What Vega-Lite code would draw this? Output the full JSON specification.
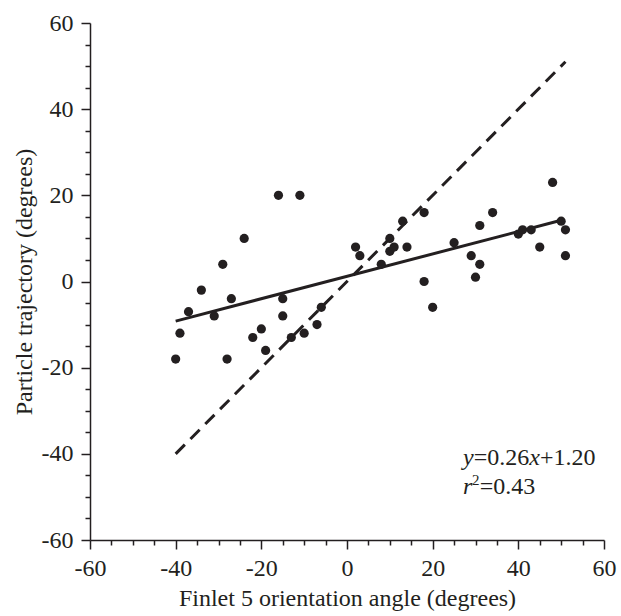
{
  "$schema": "https://vega.github.io/schema/vega-lite/v6.json",
  "width": 514,
  "height": 517,
  "autosize": {"type": "none"},
  "padding": {"left": 90, "top": 23, "right": 17, "bottom": 76},
  "background": "white",
  "config": {
    "view": {"stroke": null},
    "axis": {
      "grid": false,
      "domainColor": "#231f20",
      "domainWidth": 1.5,
      "tickColor": "#231f20",
      "tickWidth": 1.5,
      "labelFont": "Liberation Serif",
      "labelFontSize": 24,
      "labelColor": "#231f20",
      "titleFont": "Liberation Serif",
      "titleFontSize": 24,
      "titleFontWeight": "normal",
      "titleColor": "#231f20",
      "labelFlush": false,
      "labelOverlap": false
    }
  },
  "datasets": {
    "points": [
      {"x": -16, "y": 20}, {"x": -11, "y": 20}, {"x": -24, "y": 10}, {"x": -29, "y": 4},
      {"x": -34, "y": -2}, {"x": -37, "y": -7}, {"x": -27, "y": -4}, {"x": -31, "y": -8},
      {"x": -15, "y": -4}, {"x": -15, "y": -8}, {"x": -39, "y": -12}, {"x": -40, "y": -18},
      {"x": -28, "y": -18}, {"x": -20, "y": -11}, {"x": -22, "y": -13}, {"x": -19, "y": -16},
      {"x": -13, "y": -13}, {"x": -10, "y": -12}, {"x": -7, "y": -10}, {"x": -6, "y": -6},
      {"x": 2, "y": 8}, {"x": 3, "y": 6}, {"x": 8, "y": 4}, {"x": 10, "y": 10},
      {"x": 10, "y": 7}, {"x": 11, "y": 8}, {"x": 13, "y": 14}, {"x": 14, "y": 8},
      {"x": 18, "y": 16}, {"x": 18, "y": 0}, {"x": 20, "y": -6}, {"x": 25, "y": 9},
      {"x": 29, "y": 6}, {"x": 31, "y": 4}, {"x": 30, "y": 1}, {"x": 31, "y": 13},
      {"x": 34, "y": 16}, {"x": 40, "y": 11}, {"x": 41, "y": 12}, {"x": 43, "y": 12},
      {"x": 45, "y": 8}, {"x": 48, "y": 23}, {"x": 50, "y": 14}, {"x": 51, "y": 12},
      {"x": 51, "y": 6}
    ],
    "fit": [{"x": -40, "y": -9.2}, {"x": 50, "y": 14.2}],
    "identity": [{"x": -40, "y": -40}, {"x": 51, "y": 51}],
    "noteItalic": [
      {"x": 27.08, "y": -42.6, "t": "y"},
      {"x": 42.54, "y": -42.6, "t": "x"},
      {"x": 27.08, "y": -49.3, "t": "r"}
    ],
    "noteNormal": [
      {"x": 29.58, "y": -42.6, "t": "=0.26"},
      {"x": 45.04, "y": -42.6, "t": "+1.20"},
      {"x": 31.0, "y": -49.3, "t": "=0.43"}
    ],
    "noteSup": [
      {"x": 29.2, "y": -47.3, "t": "2"}
    ]
  },
  "encoding": {
    "x": {
      "field": "x",
      "type": "quantitative",
      "scale": {"domain": [-60, 60], "nice": false, "zero": false},
      "axis": {
        "title": "Finlet 5 orientation angle (degrees)",
        "values": [-60, -55, -50, -45, -40, -35, -30, -25, -20, -15, -10, -5, 0, 5, 10, 15, 20, 25, 30, 35, 40, 45, 50, 55, 60],
        "labelExpr": "datum.value % 20 === 0 ? '' + datum.value : ''",
        "tickSize": {"condition": {"test": "datum.value % 20 === 0", "value": 9}, "value": 5},
        "labelPadding": 7,
        "titlePadding": 6
      }
    },
    "y": {
      "field": "y",
      "type": "quantitative",
      "scale": {"domain": [-60, 60], "nice": false, "zero": false},
      "axis": {
        "title": "Particle trajectory (degrees)",
        "values": [-60, -55, -50, -45, -40, -35, -30, -25, -20, -15, -10, -5, 0, 5, 10, 15, 20, 25, 30, 35, 40, 45, 50, 55, 60],
        "labelExpr": "datum.value % 20 === 0 ? '' + datum.value : ''",
        "tickSize": {"condition": {"test": "datum.value % 20 === 0", "value": 9}, "value": 5},
        "labelPadding": 8,
        "titlePadding": 5
      }
    }
  },
  "layer": [
    {
      "data": {"name": "identity"},
      "mark": {"type": "line", "color": "#231f20", "strokeWidth": 3, "strokeDash": [13, 8]}
    },
    {
      "data": {"name": "fit"},
      "mark": {"type": "line", "color": "#231f20", "strokeWidth": 3}
    },
    {
      "data": {"name": "points"},
      "mark": {"type": "point", "shape": "circle", "filled": true, "size": 85, "color": "#231f20", "opacity": 1}
    },
    {
      "data": {"name": "noteItalic"},
      "mark": {"type": "text", "font": "Liberation Serif", "fontSize": 24, "fontStyle": "italic", "align": "left", "baseline": "alphabetic", "color": "#231f20"},
      "encoding": {"text": {"field": "t"}}
    },
    {
      "data": {"name": "noteNormal"},
      "mark": {"type": "text", "font": "Liberation Serif", "fontSize": 24, "align": "left", "baseline": "alphabetic", "color": "#231f20"},
      "encoding": {"text": {"field": "t"}}
    },
    {
      "data": {"name": "noteSup"},
      "mark": {"type": "text", "font": "Liberation Serif", "fontSize": 15, "align": "left", "baseline": "alphabetic", "color": "#231f20"},
      "encoding": {"text": {"field": "t"}}
    }
  ]
}
